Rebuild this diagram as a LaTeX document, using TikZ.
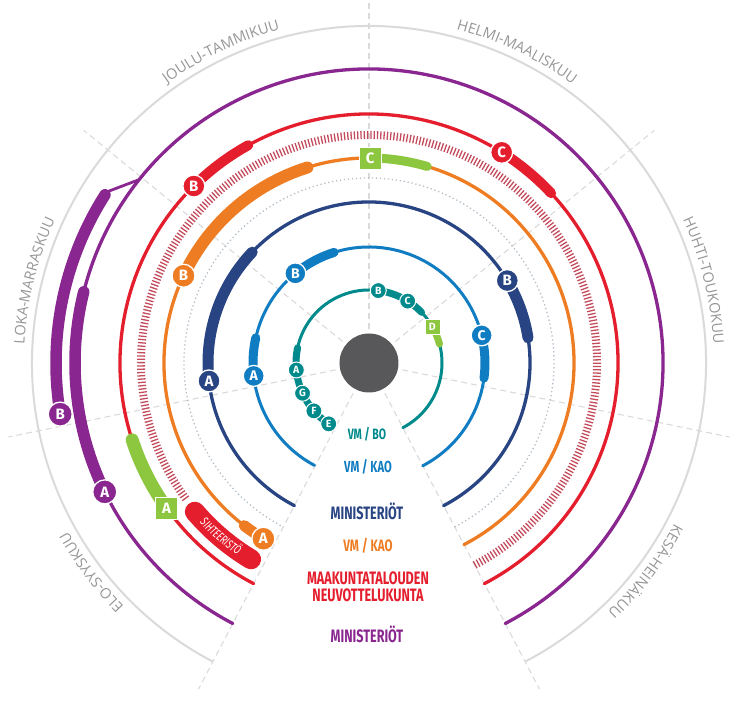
\documentclass[tikz,border=0pt]{standalone}
\usepackage{fontspec}
\usetikzlibrary{decorations.text}
\newfontfamily\legendfamily[FakeStretch=0.7]{Fira Sans}
\newfontfamily\badgefamily{Fira Sans}
\newfontfamily\monthfamily{Open Sans}
\definecolor{ringPurple}{RGB}{137,38,143}
\definecolor{ringRed}{RGB}{228,30,45}
\definecolor{ringHatch}{RGB}{195,75,92}
\definecolor{ringOrange}{RGB}{238,124,35}
\definecolor{ringGreen}{RGB}{141,198,63}
\definecolor{ringNavy}{RGB}{40,68,130}
\definecolor{ringBlue}{RGB}{16,124,194}
\definecolor{ringTeal}{RGB}{0,138,140}
\definecolor{ringDot}{RGB}{180,190,200}
\definecolor{guideGray}{RGB}{218,218,218}
\definecolor{monthGray}{RGB}{150,150,150}
\definecolor{hubGray}{RGB}{88,88,90}
\tikzset{
  ring/.style={draw=#1, line width=3.3pt, line cap=round},
  band/.style={draw=#1, line width=11pt, line cap=round},
  badge/.style={circle, fill=#1, draw=white, line width=1.3pt, text=white,
    font=\badgefamily\bfseries\fontsize{15}{15}\selectfont, inner sep=0pt, minimum size=22pt},
  smallbadge/.style={badge=#1, minimum size=16pt, line width=1pt,
    font=\badgefamily\bfseries\fontsize{10.5}{10.5}\selectfont},
  squarebadge/.style={rectangle, fill=ringGreen, draw=white, line width=0.8pt, text=white,
    font=\badgefamily\bfseries\fontsize{15}{15}\selectfont, inner sep=0pt, minimum size=22pt},
  guide/.style={draw=guideGray, line width=1.1pt, dash pattern=on 6pt off 4pt},
  legend/.style={text=#1, align=center, font=\legendfamily\bfseries\fontsize{18}{16.5}\selectfont}
}
\begin{document}
\begin{tikzpicture}[x=1pt,y=1pt]
    \useasboundingbox (-369,-359) rectangle (373,363);
    % Sector guides
        \foreach \k in {-3,...,3}
            \draw[guide] (90+50.8*\k:34) -- (90+50.8*\k:368);
    % Year circle
        \draw[draw=guideGray, line width=2pt] (-62.4:337) arc[start angle=-62.4, end angle=242.4, radius=337];
    % Month labels
        \path[decorate, decoration={text along path, text align=center, text color=monthGray,
            text={|\monthfamily\fontsize{14.5}{14.5}\selectfont|JOULU-TAMMIKUU}}]
            (141.4:345) arc[start angle=141.4, end angle=89.4, radius=345];
        \path[decorate, decoration={text along path, text align=center, text color=monthGray,
            text={|\monthfamily\fontsize{14.5}{14.5}\selectfont|HELMI-MAALISKUU}}]
            (90.6:345) arc[start angle=90.6, end angle=38.6, radius=345];
        \path[decorate, decoration={text along path, text align=center, text color=monthGray,
            text={|\monthfamily\fontsize{14.5}{14.5}\selectfont|HUHTI-TOUKOKUU}}]
            (39.8:345) arc[start angle=39.8, end angle=-12.2, radius=345];
        \path[decorate, decoration={text along path, text align=center, text color=monthGray,
            text={|\monthfamily\fontsize{14.5}{14.5}\selectfont|KESÄ-HEINÄKUU}}]
            (-11:345) arc[start angle=-11, end angle=-63, radius=345];
        \path[decorate, decoration={text along path, text align=center, text color=monthGray,
            text={|\monthfamily\fontsize{14.5}{14.5}\selectfont|LOKA-MARRASKUU}}]
            (192.2:345) arc[start angle=192.2, end angle=140.2, radius=345];
        \path[decorate, decoration={text along path, text align=center, text color=monthGray,
            text={|\monthfamily\fontsize{14.5}{14.5}\selectfont|ELO-SYYSKUU}}]
            (243:345) arc[start angle=243, end angle=191, radius=345];
    % Hub
        \fill[hubGray] (0,0) circle[radius=29.5];
    % Dotted ring
        \draw[draw=ringDot, line width=1.3pt, dash pattern=on 1.3pt off 2.7pt] (-62.4:185) arc[start angle=-62.4, end angle=242.4, radius=185];
    % Purple ring
        \draw[ring=ringPurple] (-62.4:294) arc[start angle=-62.4, end angle=242.4, radius=294];
        \draw[band=ringPurple, line width=11.5pt] (206:294) arc[start angle=206, end angle=166, radius=294];
        \draw[ring=ringPurple, line width=2.8pt] (141.4:294) -- (146.6:312);
        \draw[band=ringPurple, line width=11.5pt] (147.5:313) arc[start angle=147.5, end angle=189.4, radius=313];
    % Red ring
        \draw[ring=ringRed] (-62.4:249) arc[start angle=-62.4, end angle=242.4, radius=249];
        \draw[band=ringGreen, line width=13pt] (215.6:249) arc[start angle=215.6, end angle=198, radius=249];
        \draw[band=ringRed, line width=10pt] (134.7:249) arc[start angle=134.7, end angle=119, radius=249];
        \draw[band=ringRed, line width=10pt] (57.8:249) arc[start angle=57.8, end angle=43, radius=249];
    % Hatched ring and secretariat
        \draw[draw=ringHatch, line width=8pt, dash pattern=on 1.3pt off 2pt] (-62.4:228) arc[start angle=-62.4, end angle=217, radius=228];
        \draw[band=ringRed, line width=20pt] (220.5:229) arc[start angle=220.5, end angle=239, radius=229];
        \path[decorate, decoration={text along path, text align=center, text color=white,
            text={|\legendfamily\itshape\fontsize{12.5}{12.5}\selectfont|SIHTEERISTÖ}}]
            (216:233) arc[start angle=216, end angle=243, radius=233];
    % Orange ring
        \draw[ring=ringOrange] (-62.4:205) arc[start angle=-62.4, end angle=239, radius=205];
        \draw[band=ringOrange, line width=11pt] (239:205) arc[start angle=239, end angle=232.5, radius=205];
        \draw[band=ringOrange, line width=12pt] (154.8:205) arc[start angle=154.8, end angle=107.5, radius=205];
        \draw[band=ringGreen, line width=9pt] (89.7:205) arc[start angle=89.7, end angle=73.5, radius=205];
    % Navy ring
        \draw[ring=ringNavy] (-62.4:161) arc[start angle=-62.4, end angle=242.4, radius=161];
        \draw[band=ringNavy, line width=11pt] (186.4:161) arc[start angle=186.4, end angle=136.5, radius=161];
        \draw[band=ringNavy, line width=11pt] (30.8:161) arc[start angle=30.8, end angle=9, radius=161];
    % Blue ring
        \draw[ring=ringBlue, line width=3pt] (-62.4:116) arc[start angle=-62.4, end angle=242, radius=116];
        \draw[band=ringBlue, line width=9pt] (186.4:116) arc[start angle=186.4, end angle=167.5, radius=116];
        \draw[band=ringBlue, line width=9pt] (129.4:116) arc[start angle=129.4, end angle=107.5, radius=116];
        \draw[band=ringBlue, line width=9pt] (13.8:116) arc[start angle=13.8, end angle=-7.5, radius=116];
    % Teal ring
        \draw[ring=ringTeal, line width=3pt] (-62.4:73) arc[start angle=-62.4, end angle=236.5, radius=73];
        \draw[band=ringTeal, line width=7pt] (236.5:73) arc[start angle=236.5, end angle=168, radius=73];
        \draw[band=ringTeal, line width=7pt] (82.7:73) arc[start angle=82.7, end angle=44, radius=73];
        \draw[band=ringGreen, line width=7pt] (29.7:73) arc[start angle=29.7, end angle=15, radius=73];
    % Badges
        \node[smallbadge=ringTeal] (tealE) at (236.5:73) {E};
        \node[smallbadge=ringTeal] (tealF) at (221:73) {F};
        \node[smallbadge=ringTeal] (tealG) at (204.5:73) {G};
        \node[smallbadge=ringTeal] (tealA) at (185.5:73) {A};
        \node[smallbadge=ringTeal] (tealB) at (82.7:73) {B};
        \node[smallbadge=ringTeal] (tealC) at (58:73) {C};
        \node[squarebadge, minimum size=15pt, font=\badgefamily\bfseries\fontsize{10.5}{10.5}\selectfont] (tealD) at (29.7:73) {D};
        \node[badge=ringBlue, minimum size=21pt, font=\badgefamily\bfseries\fontsize{14}{14}\selectfont] (blueA) at (186.4:116) {A};
        \node[badge=ringBlue, minimum size=21pt, font=\badgefamily\bfseries\fontsize{14}{14}\selectfont] (blueB) at (129.4:116) {B};
        \node[badge=ringBlue, minimum size=21pt, font=\badgefamily\bfseries\fontsize{14}{14}\selectfont] (blueC) at (13.8:116) {C};
        \node[badge=ringNavy, minimum size=22pt] (navyA) at (186.4:161) {A};
        \node[badge=ringNavy, minimum size=22pt] (navyB) at (30.8:161) {B};
        \node[badge=ringOrange, minimum size=23pt] (orangeA) at (239:205) {A};
        \node[badge=ringOrange, minimum size=23pt] (orangeB) at (154.8:205) {B};
        \node[squarebadge] (orangeC) at (89.7:205) {C};
        \node[squarebadge] (redA) at (215.6:249) {A};
        \node[badge=ringRed, minimum size=22pt] (redB) at (134.7:249) {B};
        \node[badge=ringRed, minimum size=22pt] (redC) at (57.8:249) {C};
        \node[badge=ringPurple, minimum size=24pt] (purpleA) at (206:294) {A};
        \node[badge=ringPurple, minimum size=24pt] (purpleB) at (189.4:313) {B};
    % Legend
        \node[legend=ringTeal, font=\legendfamily\bfseries\fontsize{15}{15}\selectfont] (lblTeal) at (-2,-71) {VM / BO};
        \node[legend=ringBlue, font=\legendfamily\bfseries\fontsize{16}{16}\selectfont] (lblBlue) at (-1,-104) {VM / KAO};
        \node[legend=ringNavy] (lblNavy) at (-2,-148) {MINISTERIÖT};
        \node[legend=ringOrange, font=\legendfamily\bfseries\fontsize{16.5}{16.5}\selectfont] (lblOrange) at (-1,-183) {VM / KAO};
        \node[legend=ringRed] (lblRed) at (-1,-224) {MAAKUNTATALOUDEN\\NEUVOTTELUKUNTA};
        \node[legend=ringPurple] (lblPurple) at (-2,-271.5) {MINISTERIÖT};
\end{tikzpicture}
\end{document}
